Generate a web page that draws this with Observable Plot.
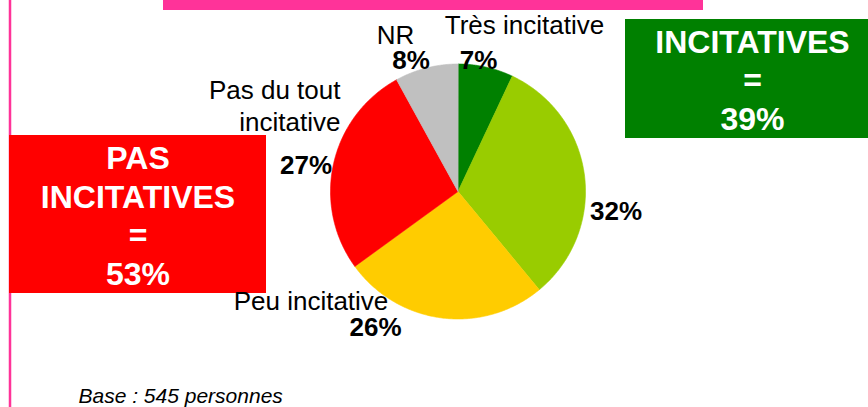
<!DOCTYPE html>
<html>
<head>
<meta charset="utf-8">
<script src="https://cdn.jsdelivr.net/npm/d3@7"></script>
<script src="https://cdn.jsdelivr.net/npm/@observablehq/plot@0.6"></script>
<style>
  html, body { margin: 0; padding: 0; background: #fff; }
  #chart svg { display: block; }
</style>
</head>
<body>
<div id="chart"></div>
<script>
// ---- Data ----
const categories = ["Très incitative", "Assez incitative", "Peu incitative", "Pas du tout incitative", "NR"];
const shownNames = ["Très incitative", "", "Peu incitative", "Pas du tout\nincitative", "NR"];
const values = [7, 32, 26, 27, 8];
const colors = ["#008000", "#99cc00", "#ffcc00", "#ff0000", "#c0c0c0"];
const groups = ["INCITATIVES", "PAS\nINCITATIVES"];
const groupValues = [39, 53];
const groupColors = ["#008000", "#ff0000"];
const baseNote = "Base : 545 personnes";

// ---- Layout (pixel space) ----
const W = 868, H = 407;
const cx = 457.5, cy = 191, r = 127.5;
const nameLayout = [
  {x: 524, y: 33, anchor: "middle"},
  null,
  {x: 310.5, y: 309, anchor: "middle"},
  {x: 340, y: 130, anchor: "end"},
  {x: 395, y: 43, anchor: "middle"}
];
const pctLayout = [
  {x: 478, y: 68}, {x: 615.5, y: 219}, {x: 375, y: 335}, {x: 305.5, y: 173}, {x: 410.5, y: 68}
];
const boxLayout = [
  {x1: 625, x2: 870, y1: 19, y2: 138, tx: 752, ty: 129},
  {x1: 9, x2: 266, y1: 135, y2: 293, tx: 137.5, ty: 284}
];

// ---- Pie polygons from values ----
const total = d3.sum(values);
let acc = 0;
const piePts = [];
values.forEach((v, i) => {
  const a0 = acc / total * 2 * Math.PI;
  acc += v;
  const a1 = acc / total * 2 * Math.PI;
  const n = Math.max(2, Math.ceil((a1 - a0) / (Math.PI / 360)));
  piePts.push({cat: categories[i], x: cx, y: cy});
  for (let k = 0; k <= n; k++) {
    const a = a0 + (a1 - a0) * k / n;
    piePts.push({cat: categories[i], x: cx + r * Math.sin(a), y: cy - r * Math.cos(a)});
  }
});

const nameLabels = shownNames.map((t, i) => ({t, ...(nameLayout[i] || {})})).filter(d => d.t);
const pctLabels = values.map((v, i) => ({t: v + "%", ...pctLayout[i]}));
const boxes = groups.map((g, i) => ({t: g + "\n=\n" + groupValues[i] + "%", fill: groupColors[i], ...boxLayout[i]}));

const font = "'Liberation Sans', Arial, Helvetica, sans-serif";

const nameText = (anchor) => Plot.text(nameLabels.filter(d => d.anchor === anchor), {
  x: "x", y: "y", text: "t", textAnchor: anchor, fontSize: 26, lineAnchor: "bottom", lineHeight: 1.23, fill: "#000"
});

const chart = Plot.plot({
  width: W, height: H,
  margin: 0,
  x: {domain: [0, W], range: [0, W], axis: null},
  y: {domain: [0, H], range: [0, H], axis: null},
  color: {domain: categories, range: colors},
  style: {fontFamily: font, background: "#fff", color: "#000", overflow: "visible"},
  marks: [
    Plot.rect([{x1: 163, x2: 703, y1: 0, y2: 10}], {x1: "x1", x2: "x2", y1: "y1", y2: "y2", fill: "#ff3399"}),
    Plot.ruleX([9.5], {y1: 0, y2: H, stroke: "#ff3399", strokeWidth: 2.5}),
    Plot.line(piePts, {x: "x", y: "y", z: "cat", fill: "cat", stroke: "cat", strokeWidth: 0.6, curve: "linear-closed"}),
    Plot.rect(boxes, {x1: "x1", x2: "x2", y1: "y1", y2: "y2", fill: "fill"}),
    Plot.text(boxes, {x: "tx", y: "ty", text: "t", fill: "#fff", fontSize: 32, fontWeight: "bold", lineAnchor: "bottom", lineHeight: 1.2, textAnchor: "middle"}),
    nameText("middle"),
    nameText("end"),
    Plot.text(pctLabels, {x: "x", y: "y", text: "t", textAnchor: "middle", fontSize: 26, fontWeight: "bold", lineAnchor: "bottom", fill: "#000"}),
    Plot.text([baseNote], {x: 78, y: 402.5, text: d => d, textAnchor: "start", fontSize: 21, fontStyle: "italic", lineAnchor: "bottom", fill: "#000"})
  ]
});
document.getElementById("chart").appendChild(chart);
</script>
</body>
</html>
